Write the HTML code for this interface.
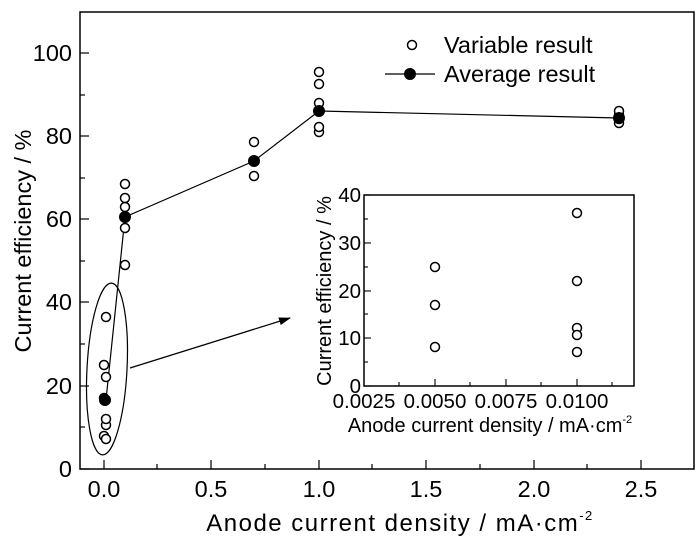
<!DOCTYPE html>
<html><head><meta charset="utf-8"><style>body{margin:0;background:#fff}svg{display:block}text{font-family:"Liberation Sans",Arial,sans-serif;fill:#000}</style></head><body>
<svg width="700" height="547" viewBox="0 0 700 547">
<defs><marker id="ah" markerWidth="12" markerHeight="8" refX="11" refY="4" orient="auto" markerUnits="userSpaceOnUse"><path d="M0,0 L12,4 L0,8 Z" fill="#000"/></marker></defs>
<rect x="80" y="12" width="614" height="457" fill="none" stroke="#000" stroke-width="1.5"/>
<g stroke="#000" stroke-width="1.2">
<line x1="80" y1="469" x2="89" y2="469"/><line x1="80" y1="386" x2="89" y2="386"/><line x1="80" y1="302" x2="89" y2="302"/><line x1="80" y1="219" x2="89" y2="219"/><line x1="80" y1="136" x2="89" y2="136"/><line x1="80" y1="53" x2="89" y2="53"/>
<line x1="80" y1="427" x2="85" y2="427"/><line x1="80" y1="344" x2="85" y2="344"/><line x1="80" y1="261" x2="85" y2="261"/><line x1="80" y1="178" x2="85" y2="178"/><line x1="80" y1="95" x2="85" y2="95"/>
<line x1="104" y1="469" x2="104" y2="460"/><line x1="211" y1="469" x2="211" y2="460"/><line x1="319" y1="469" x2="319" y2="460"/><line x1="426" y1="469" x2="426" y2="460"/><line x1="534" y1="469" x2="534" y2="460"/><line x1="641" y1="469" x2="641" y2="460"/>
<line x1="157" y1="469" x2="157" y2="464"/><line x1="265" y1="469" x2="265" y2="464"/><line x1="372" y1="469" x2="372" y2="464"/><line x1="480" y1="469" x2="480" y2="464"/><line x1="587" y1="469" x2="587" y2="464"/>
</g>
<g font-size="23.5" text-anchor="end"><text x="72" y="477">0</text><text x="72" y="394">20</text><text x="72" y="310">40</text><text x="72" y="227">60</text><text x="72" y="144">80</text><text x="72" y="61">100</text></g>
<g font-size="23.5" text-anchor="middle"><text x="104" y="497">0.0</text><text x="211" y="497">0.5</text><text x="319" y="497">1.0</text><text x="426" y="497">1.5</text><text x="534" y="497">2.0</text><text x="641" y="497">2.5</text></g>
<text x="400" y="531" font-size="24" letter-spacing="1.5" text-anchor="middle">Anode current density / mA·cm<tspan font-size="13" dy="-11">-2</tspan></text>
<text transform="translate(31,241) rotate(-90)" font-size="23.5" text-anchor="middle">Current efficiency / %</text>
<polyline points="106,400 125,217 254,161 319,111 619,118" fill="none" stroke="#000" stroke-width="1.2"/>
<g fill="#fff" stroke="#000" stroke-width="1.5">
<circle cx="104" cy="436" r="4.5"/><circle cx="104" cy="398" r="4.5"/><circle cx="104" cy="365" r="4.5"/>
<circle cx="106" cy="439" r="4.5"/><circle cx="106" cy="425" r="4.5"/><circle cx="106" cy="419" r="4.5"/><circle cx="106" cy="377" r="4.5"/><circle cx="106" cy="317" r="4.5"/>
<circle cx="125" cy="265" r="4.5"/><circle cx="125" cy="228" r="4.5"/><circle cx="125" cy="207" r="4.5"/><circle cx="125" cy="198" r="4.5"/><circle cx="125" cy="184" r="4.5"/>
<circle cx="254" cy="176" r="4.5"/><circle cx="254" cy="142" r="4.5"/>
<circle cx="319" cy="132" r="4.5"/><circle cx="319" cy="127" r="4.5"/><circle cx="319" cy="103" r="4.5"/><circle cx="319" cy="84" r="4.5"/><circle cx="319" cy="72" r="4.5"/>
<circle cx="619" cy="123" r="4.5"/><circle cx="619" cy="119" r="4.5"/><circle cx="619" cy="115" r="4.5"/><circle cx="619" cy="111" r="4.5"/>
</g>
<g fill="#000"><circle cx="105" cy="400" r="6"/><circle cx="125" cy="217" r="6"/><circle cx="254" cy="161" r="6"/><circle cx="319" cy="111" r="6"/><circle cx="619" cy="118" r="6"/></g>
<ellipse cx="107" cy="369" rx="20" ry="86" fill="none" stroke="#000" stroke-width="1.2" transform="rotate(3 107 369)"/>
<line x1="130" y1="368" x2="290" y2="318" stroke="#000" stroke-width="1.3" marker-end="url(#ah)"/>
<circle cx="412" cy="45" r="4.5" fill="#fff" stroke="#000" stroke-width="1.5"/>
<text x="444" y="53" font-size="23.5">Variable result</text>
<line x1="385" y1="74" x2="435" y2="74" stroke="#000" stroke-width="1.2"/>
<circle cx="410" cy="74" r="6" fill="#000"/>
<text x="444" y="82" font-size="23.5">Average result</text>
<rect x="364" y="195" width="270" height="191" fill="#fff" stroke="#000" stroke-width="1.5"/>
<g stroke="#000" stroke-width="1.1">
<line x1="364" y1="386" x2="371" y2="386"/><line x1="364" y1="338" x2="371" y2="338"/><line x1="364" y1="291" x2="371" y2="291"/><line x1="364" y1="243" x2="371" y2="243"/><line x1="364" y1="195" x2="371" y2="195"/>
<line x1="364" y1="362" x2="368" y2="362"/><line x1="364" y1="314" x2="368" y2="314"/><line x1="364" y1="267" x2="368" y2="267"/><line x1="364" y1="219" x2="368" y2="219"/>
<line x1="435" y1="386" x2="435" y2="379"/><line x1="506" y1="386" x2="506" y2="379"/><line x1="577" y1="386" x2="577" y2="379"/>
<line x1="399" y1="386" x2="399" y2="382"/><line x1="470" y1="386" x2="470" y2="382"/><line x1="541" y1="386" x2="541" y2="382"/><line x1="612" y1="386" x2="612" y2="382"/>
</g>
<g font-size="20.5" text-anchor="end"><text x="361" y="393">0</text><text x="361" y="345">10</text><text x="361" y="298">20</text><text x="361" y="250">30</text><text x="361" y="202">40</text></g>
<g font-size="20.5" text-anchor="middle"><text x="364" y="408">0.0025</text><text x="435" y="408">0.0050</text><text x="506" y="408">0.0075</text><text x="577" y="408">0.0100</text></g>
<text x="490" y="432" font-size="20" text-anchor="middle">Anode current density / mA·cm<tspan font-size="11" dy="-9">-2</tspan></text>
<text transform="translate(331,291) rotate(-90)" font-size="20" text-anchor="middle">Current efficiency / %</text>
<g fill="#fff" stroke="#000" stroke-width="1.5">
<circle cx="435" cy="267" r="4.5"/><circle cx="435" cy="305" r="4.5"/><circle cx="435" cy="347" r="4.5"/>
<circle cx="577" cy="213" r="4.5"/><circle cx="577" cy="281" r="4.5"/><circle cx="577" cy="328" r="4.5"/><circle cx="577" cy="335" r="4.5"/><circle cx="577" cy="352" r="4.5"/>
</g>
</svg>
</body></html>
